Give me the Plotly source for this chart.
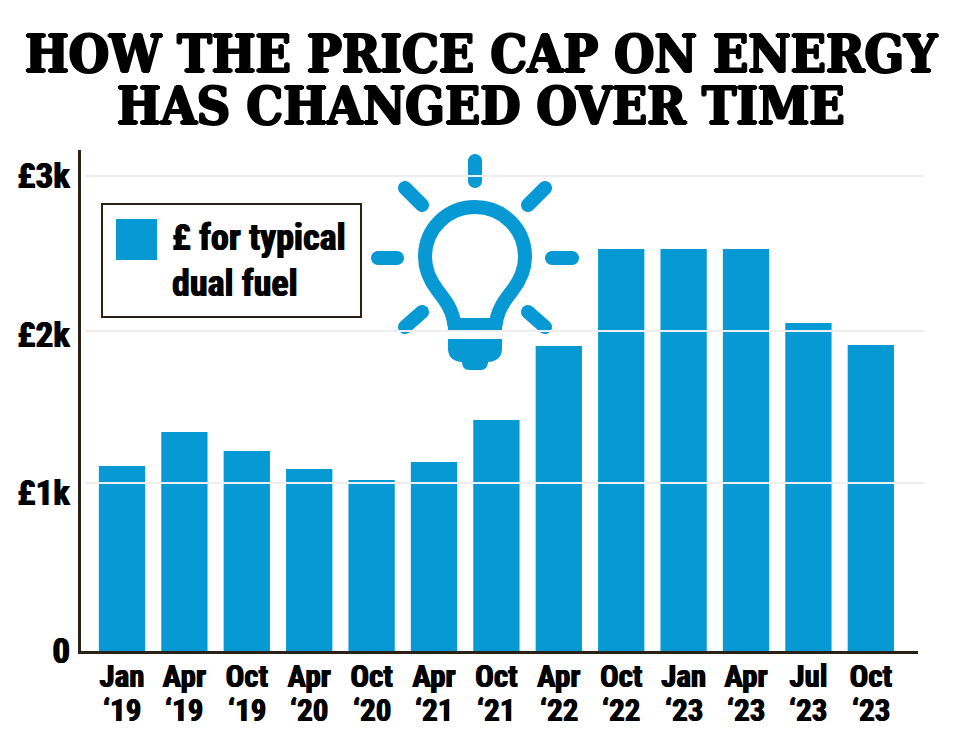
import math
import plotly.graph_objects as go

# ---- data ----
months = ["Jan", "Apr", "Oct", "Apr", "Oct", "Apr", "Oct", "Apr", "Oct", "Jan", "Apr", "Jul", "Oct"]
years = ["‘19", "‘19", "‘19", "‘20", "‘20", "‘21", "‘21", "‘22", "‘22", "‘23", "‘23", "‘23", "‘23"]
price_cap = [1169, 1383, 1263, 1150, 1080, 1194, 1459, 1927, 2539, 2539, 2539, 2072, 1933]
y_ticks = [0, 1000, 2000, 3000]
y_labels = ["0", "£1k", "£2k", "£3k"]
# the reference's pale rules sit slightly off its tick labels
rule_values = [1061, 2021, 3000]
title_lines = ["HOW THE PRICE CAP ON ENERGY", "HAS CHANGED OVER TIME"]
legend_lines = ["£ for typical", "dual fuel"]

BLUE = "#0799d4"
INK = "#2a2118"
W, H = 960, 753
L, R, T, B = 81, 918, 150, 651
LABEL_FONT = "Roboto Condensed"
THICK = "0.6px 0 0 #000, -0.6px 0 0 #000"


def px(x):
    return (x - L) / (R - L)


def py(y):
    return (B - y) / (B - T)


def path(points):
    return "M " + " L ".join(f"{px(x):.5f},{py(y):.5f}" for x, y in points) + " Z"


def stadium(x0, y0, x1, y1, w=14):
    a = math.atan2(y1 - y0, x1 - x0)
    r = w / 2
    pts = []
    for i in range(13):
        t = a + math.pi / 2 + math.pi * i / 12
        pts.append((x0 + r * math.cos(t), y0 + r * math.sin(t)))
    for i in range(13):
        t = a - math.pi / 2 + math.pi * i / 12
        pts.append((x1 + r * math.cos(t), y1 + r * math.sin(t)))
    return path(pts)


def curve(cmds):
    out = []
    for c, pts in cmds:
        out.append(c + " " + " ".join(f"{px(x):.5f},{py(y):.5f}" for x, y in pts))
    return " ".join(out)


positions = list(range(len(months)))
fig = go.Figure(go.Bar(x=positions, y=price_cap, marker=dict(color=BLUE, line_width=0), width=0.742,
                       name="£ for typical dual fuel", showlegend=False))

shapes = []
# light bulb icon
rays = [(475, 161, 475, 181), (405, 188, 422, 205), (528, 205, 545, 188),
        (378, 258, 397, 258), (552, 258, 572, 258),
        (422, 312, 405, 327), (528, 312, 545, 327)]
for r in rays:
    shapes.append(dict(type="path", xref="paper", yref="paper", path=stadium(*r), fillcolor=BLUE, line_width=0, layer="above"))
ring = curve([
    ("M", [(454.5, 326)]),
    ("C", [(453, 310), (445, 300), (438, 291)]),
    ("C", [(431, 282), (425, 271), (425, 257)]),
    ("C", [(425, 229), (447, 207), (475, 207)]),
    ("C", [(503, 207), (525, 229), (525, 257)]),
    ("C", [(525, 271), (519, 282), (512, 291)]),
    ("C", [(505, 300), (497, 310), (495.5, 326)]),
])
shapes.append(dict(type="path", xref="paper", yref="paper", path=ring, line=dict(color=BLUE, width=14), layer="above"))
shapes.append(dict(type="rect", xref="paper", yref="paper", x0=px(448), x1=px(502), y0=py(331), y1=py(318), fillcolor=BLUE, line_width=0, layer="above"))
cap = curve([
    ("M", [(448, 339)]), ("L", [(502, 339)]), ("L", [(502, 349)]),
    ("C", [(502, 357), (496, 362), (488, 362)]),
    ("C", [(488, 367), (485, 370), (481, 370)]),
    ("L", [(469, 370)]),
    ("C", [(465, 370), (462, 367), (462, 362)]),
    ("C", [(454, 362), (448, 357), (448, 349)]),
]) + " Z"
shapes.append(dict(type="path", xref="paper", yref="paper", path=cap, fillcolor=BLUE, line_width=0, layer="above"))
# pale rules over the bars
for v in rule_values:
    shapes.append(dict(type="line", xref="paper", yref="y", x0=px(85), x1=px(924), y0=v, y1=v,
                       line=dict(color="#eeeef0", width=2), layer="above"))
# legend box
shapes.append(dict(type="rect", xref="paper", yref="paper", x0=px(102), x1=px(361), y0=py(317), y1=py(204),
                   fillcolor="white", line=dict(color=INK, width=2), layer="above"))
shapes.append(dict(type="rect", xref="paper", yref="paper", x0=px(116), x1=px(157), y0=py(260), y1=py(219),
                   fillcolor=BLUE, line_width=0, layer="above"))

annotations = []
for line, yc in zip(title_lines, [54, 106]):
    annotations.append(dict(text=line, xref="paper", yref="paper", x=px(481), y=py(yc), xanchor="center", yanchor="middle",
                            showarrow=False,
                            font=dict(family="DejaVu Serif Condensed", size=51.5, color="#000", weight=700,
                                      shadow="1.2px 0 0 #000, -1.2px 0 0 #000, 0 1px 0 #000, 0 -1px 0 #000")))
for line, yc in zip(legend_lines, [238, 284]):
    annotations.append(dict(text=line, xref="paper", yref="paper", x=px(170), y=py(yc), xanchor="left", yanchor="middle",
                            showarrow=False,
                            font=dict(family=LABEL_FONT, size=36, color="#000", weight=700, shadow=THICK)))
for p, yr in zip(positions, years):
    annotations.append(dict(text=yr, xref="x", yref="paper", x=p, y=py(710), xanchor="center", yanchor="middle",
                            showarrow=False,
                            font=dict(family=LABEL_FONT, size=31, color="#000", weight=700, shadow=THICK)))

fig.update_layout(
    width=W, height=H, autosize=False,
    margin=dict(l=L, r=W - R, t=T, b=H - B, pad=0),
    paper_bgcolor="white", plot_bgcolor="white",
    shapes=shapes, annotations=annotations,
    xaxis=dict(tickmode="array", tickvals=positions, ticktext=months, automargin=False,
               range=[-0.657, 12.756], showgrid=False, zeroline=False,
               showline=True, linecolor=INK, linewidth=3, ticks="", ticklabelstandoff=-4,
               tickangle=0,
               tickfont=dict(family=LABEL_FONT, size=31, color="#000", weight=700, shadow=THICK)),
    yaxis=dict(tickmode="array", tickvals=y_ticks, ticktext=y_labels, automargin=False,
               range=[0, 3165], showgrid=False, zeroline=False,
               showline=True, linecolor=INK, linewidth=3, ticks="", ticklabelstandoff=1,
               tickfont=dict(family=LABEL_FONT, size=35, color="#000", weight=700, shadow=THICK)),
)
fig.write_html("out.html", config={"displayModeBar": False},
               post_script="document.body.style.margin='0'")
